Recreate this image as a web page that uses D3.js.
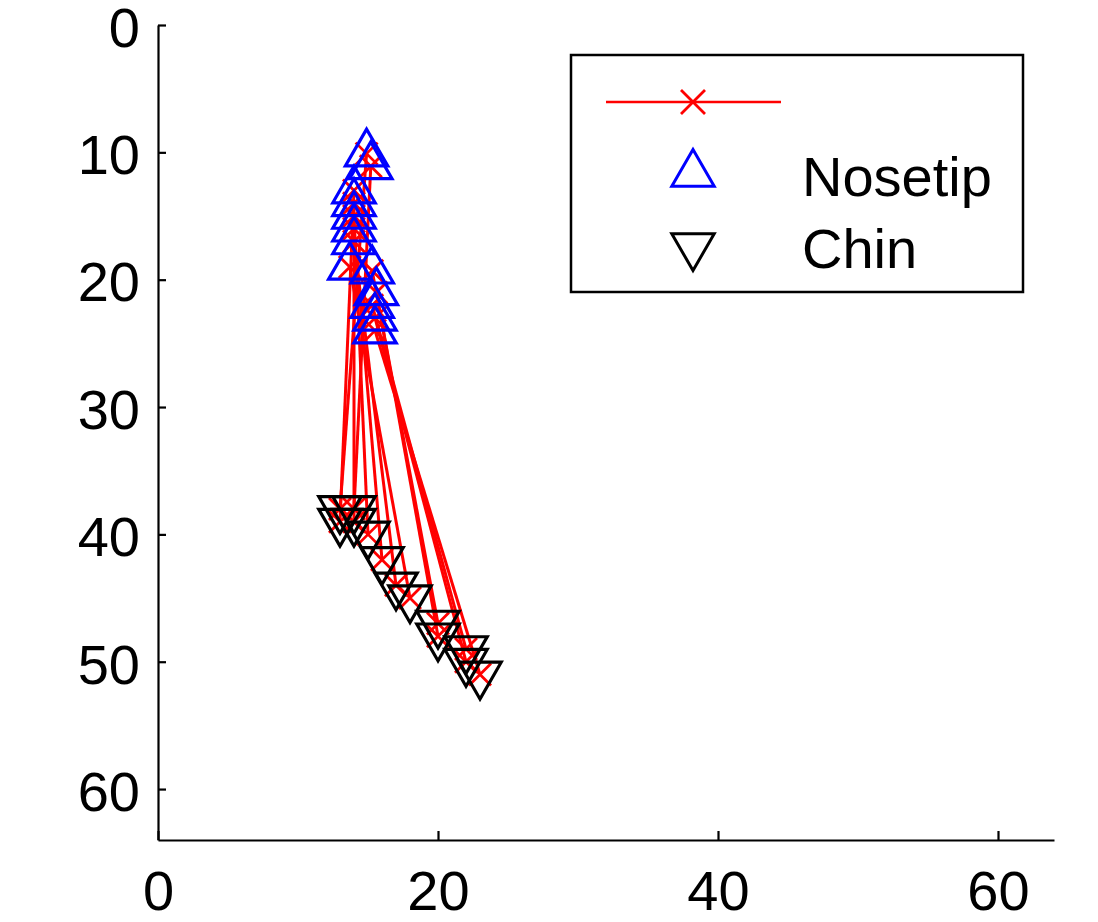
<!DOCTYPE html>
<html>
<head>
<meta charset="utf-8">
<script src="https://cdn.jsdelivr.net/npm/d3@7"></script>
<style>
  body { margin: 0; background: #fff; }
  svg { display: block; }
</style>
</head>
<body>
<div id="chart"></div>
<script>
// landmark positions (x, y) per frame, image coords
const noseX = [14.9, 15.2, 14, 14, 14, 14, 14, 13.7, 15.3, 15.6, 15.3, 15.5, 15.5];
const noseY = [10.1, 11.1, 13, 14, 15, 16, 17, 19, 19.3, 21, 22, 23, 24];
const chinX = [13, 14, 13, 14, 15, 16, 17, 18, 20, 20, 22, 22, 23];
const chinY = [38, 38, 39, 39, 40, 42, 44, 45, 47, 48, 49, 50, 51];
const xTicks = [0, 20, 40, 60];
const yTicks = [0, 10, 20, 30, 40, 50, 60];
const legendLabels = ["", "Nosetip", "Chin"];

const width = 1098;
const height = 922;
const font = "'Liberation Sans', Arial, sans-serif";

const x = d3.scaleLinear().domain([0, 64]).range([158, 1054]);
const y = d3.scaleLinear().domain([0, 64]).range([25, 840]);   // reversed (image rows)

const svg = d3.select("#chart")
    .append("svg")
    .attr("width", width)
    .attr("height", height)
    .attr("font-family", font);

// axes (ticks pointing inwards, like matlab)
const xAxis = svg.append("g")
    .attr("transform", `translate(0,${y(64)})`)
    .call(d3.axisBottom(x).tickValues(xTicks).tickSize(-9).tickPadding(30).tickSizeOuter(0));
const yAxis = svg.append("g")
    .attr("transform", `translate(${x(0)},0)`)
    .call(d3.axisLeft(y).tickValues(yTicks).tickSize(-8).tickPadding(18).tickSizeOuter(0));

[xAxis, yAxis].forEach(a => {
    a.select(".domain").attr("stroke", "#000").attr("stroke-width", 2.2);
    a.selectAll(".tick line").attr("stroke", "#000").attr("stroke-width", 2.2);
    a.selectAll("text").attr("font-size", 56).attr("fill", "#000").attr("font-family", font);
});
xAxis.selectAll("text").attr("dy", "0.71em").attr("y", 30);
yAxis.selectAll("text").attr("dy", "0.38em");

const pairs = d3.range(noseX.length).map(i => ({
    nose: [noseX[i], noseY[i]],
    chin: [chinX[i], chinY[i]]
}));

function cross(g, cx, cy, r) {
    g.append("path")
        .attr("d", `M${cx - r},${cy - r}L${cx + r},${cy + r}M${cx - r},${cy + r}L${cx + r},${cy - r}`)
        .attr("stroke", "red").attr("stroke-width", 2.8).attr("fill", "none");
}

// triangle inscribed in circle radius r, centroid on the point
function tri(r, up) {
    const s = up ? -1 : 1;
    return `M0,${s * r}L${-0.866 * r},${-s * r / 2}L${0.866 * r},${-s * r / 2}Z`;
}

// red connections with x markers
const lines = svg.append("g");
pairs.forEach(p => {
    lines.append("line")
        .attr("x1", x(p.nose[0])).attr("y1", y(p.nose[1]))
        .attr("x2", x(p.chin[0])).attr("y2", y(p.chin[1]))
        .attr("stroke", "red").attr("stroke-width", 3);
    cross(lines, x(p.nose[0]), y(p.nose[1]), 11);
    cross(lines, x(p.chin[0]), y(p.chin[1]), 11);
});

svg.append("g")
    .selectAll("path")
    .data(pairs)
    .join("path")
    .attr("transform", d => `translate(${x(d.nose[0])},${y(d.nose[1])})`)
    .attr("d", tri(24.5, true))
    .attr("fill", "none")
    .attr("stroke", "#0000ff")
    .attr("stroke-width", 3.2);

svg.append("g")
    .selectAll("path")
    .data(pairs)
    .join("path")
    .attr("transform", d => `translate(${x(d.chin[0])},${y(d.chin[1])})`)
    .attr("d", tri(24.5, false))
    .attr("fill", "none")
    .attr("stroke", "#000")
    .attr("stroke-width", 3.2);

// legend
const legend = svg.append("g");
legend.append("rect")
    .attr("x", 571).attr("y", 55).attr("width", 452).attr("height", 237)
    .attr("fill", "#fff").attr("stroke", "#000").attr("stroke-width", 2.5);

legend.append("line")
    .attr("x1", 606).attr("x2", 781).attr("y1", 102).attr("y2", 102)
    .attr("stroke", "red").attr("stroke-width", 2.5);
cross(legend, 693, 102, 12);

legend.append("path")
    .attr("transform", "translate(693,174)")
    .attr("d", tri(24.5, true))
    .attr("fill", "none").attr("stroke", "#0000ff").attr("stroke-width", 3);
legend.append("path")
    .attr("transform", "translate(693,246)")
    .attr("d", tri(24.5, false))
    .attr("fill", "none").attr("stroke", "#000").attr("stroke-width", 3);

legend.selectAll("text.lab")
    .data(legendLabels)
    .join("text")
    .attr("class", "lab")
    .attr("x", 802)
    .attr("y", (d, i) => [120, 196, 268][i])
    .attr("font-size", 56)
    .attr("fill", "#000")
    .text(d => d);
</script>
</body>
</html>
